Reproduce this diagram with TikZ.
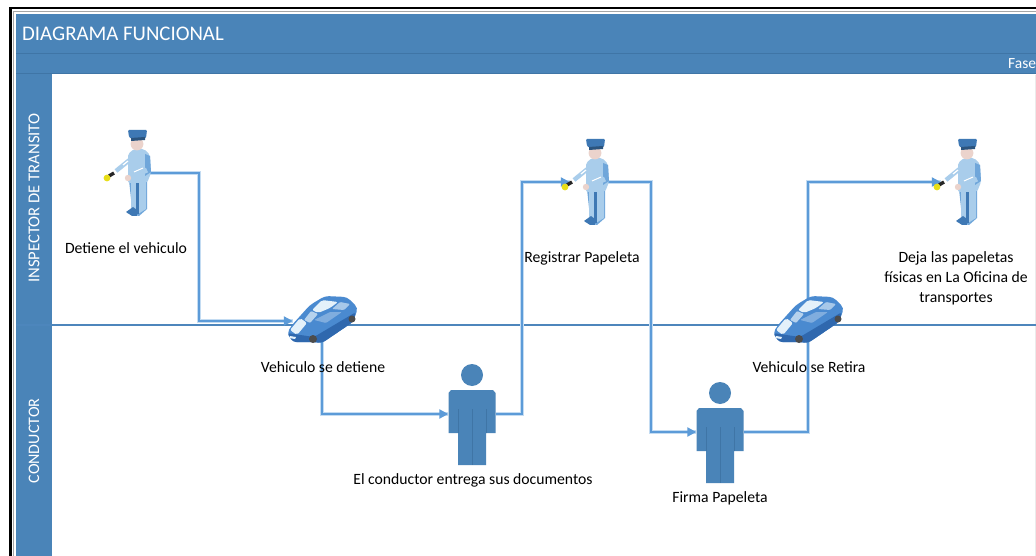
\documentclass[tikz,border=0pt]{standalone}
\usepackage{fontspec}
\setmainfont{Carlito}
\usetikzlibrary{arrows.meta}
\definecolor{band}{HTML}{4A84B8}
\definecolor{bandd}{HTML}{3F75A6}
\definecolor{flow}{HTML}{5C9BD8}
\definecolor{halo}{HTML}{C4DCF2}
\definecolor{divl}{HTML}{4D86BC}
\definecolor{uni}{HTML}{A9CDEB}
\definecolor{unid}{HTML}{6FA6DA}
\definecolor{hatc}{HTML}{3E78B4}
\definecolor{skin}{HTML}{EBD3CC}
\definecolor{carb}{HTML}{4A8AD0}
\definecolor{card}{HTML}{2F68AE}
\definecolor{carl}{HTML}{E4F1FA}
\tikzset{
  x=1pt,y=-1pt,
  conn/.style={draw=flow,line width=2.1pt,line join=miter,preaction={draw=halo,line width=3.4pt,-}},
  arr/.style={conn,-{Triangle[length=9pt,width=9pt,fill=flow]}},
  slot/.style={inner sep=0pt,minimum width=#1,minimum height=40pt},
  lab/.style={text=black,font=\fontsize{15.7}{20}\selectfont,align=center,inner sep=0pt},
  hdr/.style={text=white,inner sep=0pt},
  officer/.pic={
    % legs
    \fill[unid] (-8,50) -- (10,48) -- (10,79) -- (2,86) -- (-10,83) -- (-5,78) -- cycle;
    \fill[uni] (-6,50) -- (-1,50) -- (-1,80) -- (-6,78) -- cycle;
    \fill[uni] (1,50) -- (9,50) -- (9,79) -- (1,84) -- cycle;
    \fill[hatc] (-1,52) -- (2,52) -- (2,84) -- (-1,84) -- cycle;
    \fill[hatc] (-11,82) -- (-4,77) -- (0,80) -- (0,86) -- (-5,86) -- cycle;
    % torso
    \fill[uni,rounded corners=2pt] (-9,24) -- (-3,19) -- (7,19) -- (13,25) -- (14,43) -- (10,53) -- (-9,53) -- (-9,36) -- cycle;
    \fill[unid] (8,24) -- (13,26) -- (14,42) -- (8,46) -- cycle;
    % far arm with flashlight
    \draw[line width=4.4pt,uni] (-5,28) -- (-21,41);
    \draw[line width=1.2pt,white] (-9,31) -- (-14,35);
    \draw[line width=3.4pt,black!85] (-23,43) -- (-28,46);
    \fill[yellow!90!black] (-30,48) circle[radius=3.4];
    % near arm
    \draw[line width=5pt,uni] (10,40) -- (-5,47);
    \draw[line width=1pt,white] (6,38) -- (-3,42);
    \fill[skin] (-9,48) circle[radius=3.2];
    % head and hat
    \fill[skin] (0,14) circle[radius=6.4];
    \fill[hatc,rounded corners=1pt] (-9,0) -- (10,0) -- (9,8) -- (-5,9) -- (-8,7) -- cycle;
    \fill[hatc!70!black] (-6,8) -- (8,7) -- (8,10) -- (-6,11) -- cycle;
  },
  sedan/.pic={
    \fill[carb,rounded corners=4pt] (-35,13) -- (-30,5) -- (-12,-15) -- (3,-24) -- (25,-23) -- (36,-12) -- (31,2) -- (0,23) -- (-9,22) -- (-29,22) -- cycle;
    \fill[card,rounded corners=3pt] (-35,13) -- (-8,17) -- (34,-8) -- (31,2) -- (0,23) -- (-9,22) -- (-29,22) -- cycle;
    \fill[carl,rounded corners=2pt] (-10,-10) -- (0,-20) -- (16,-18) -- (8,-12) -- (-4,-7) -- cycle;
    \fill[carl!70!carb,rounded corners=1pt] (-11,-9) -- (-4,-6) -- (-12,3) -- (-18,0) -- cycle;
    \fill[carl!60!carb,rounded corners=1pt] (18,-18) -- (28,-16) -- (22,-10) -- (10,-11) -- cycle;
    \fill[carl,rounded corners=2pt] (-32,10) -- (-22,-2) -- (-15,3) -- (-25,15) -- cycle;
    \fill[carb!70!white,rounded corners=1pt] (-8,0) -- (8,-8) -- (20,-8) -- (4,3) -- cycle;
    \fill[black!70] (-9,19) circle[radius=4];
    \fill[black!70] (30,-1) circle[radius=3.5];
    \fill[carl] (-32,16) -- (-26,17) -- (-27,19) -- (-33,18) -- cycle;
  },
  driver/.pic={
    \fill[band] (0,-39) circle[radius=11];
    \fill[band] (-21,-24) -- (21,-24) -- (23.5,-21) -- (23.5,19) -- (14,19) -- (14,51) -- (-14,51) -- (-14,19) -- (-23.5,19) -- (-23.5,-21) -- cycle;
    \draw[bandd,line width=.5pt] (0,-5) -- (0,51);
    \draw[bandd,line width=.5pt] (-14,-5) -- (-14,19) (14,-5) -- (14,19);
  },
}
\begin{document}
\begin{tikzpicture}
\useasboundingbox (0,0) rectangle (1036,556);
\begin{scope}
\clip (0,0) rectangle (1036,556);
\fill[white] (0,0) rectangle (1036,556);
% frame
\draw[black,line width=2.4pt] (1040,8) -- (10.5,8) -- (10.5,560);
\draw[black!35,line width=.6pt] (1040,11.5) -- (13,11.5) -- (13,560);
% pool header
\fill[band] (16,14) rectangle (1036,74);
\fill[band] (16,74) rectangle (52,556);
\draw[bandd,line width=.8pt] (16,53) -- (1036,53);
\draw[bandd,line width=1pt] (16,74) -- (1036,74);
\draw[black!8,line width=1pt] (1035,75) -- (1035,556);
% lane divider
\coordinate (divL) at (16,325);
\coordinate (divR) at (1036,325);
\draw[divl,line width=1.4pt] (divL) -- (divR);
% icon slots
\node[slot=26pt] (off1) at (137,173) {};
\node[slot=50pt] (off2) at (595,182) {};
\node[slot=52pt] (off3) at (967,182) {};
\node[slot=58pt] (car1) at (322,321) {};
\node[slot=58pt] (car2) at (808,321) {};
\node[slot=47pt] (drv1) at (472,414) {};
\node[slot=47pt] (drv2) at (720,432) {};
\coordinate (t1) at (199,173);
\coordinate (t3) at (522,414);
\coordinate (t4) at (651,182);
% connectors
\draw[arr] (off1.east) -- (t1) |- (car1.west);
\draw[arr] (car1.center) |- (drv1.west);
\draw[arr] (drv1.east) -- (t3) |- (off2.west);
\draw[arr] (off2.center) -- (t4) |- (drv2.west);
\draw[conn] (drv2.east) -| (car2.center);
\draw[arr] (car2.center) |- (off3.west);
% icons
\pic at (137,130) {officer};
\pic at (595,139) {officer};
\pic at (967,139) {officer};
\pic at (322,320) {sedan};
\pic at (808,320) {sedan};
\pic at (472,414) {driver};
\pic at (720,432) {driver};
% texts
\node[hdr,anchor=west,font=\fontsize{20.8}{22}\selectfont] (title) at (22,34) {DIAGRAMA FUNCIONAL};
\node[hdr,anchor=west,font=\fontsize{15.5}{17}\selectfont] (fase) at (1008,64) {Fase};
\node[hdr,rotate=90,font=\fontsize{16.6}{18}\selectfont] (lane1) at (34,198) {INSPECTOR DE TRANSITO};
\node[hdr,rotate=90,font=\fontsize{16}{18}\selectfont] (lane2) at (34,441) {CONDUCTOR};
\node[lab] (l1) at (126,248) {Detiene el vehiculo};
\node[lab] (l2) at (323,367) {Vehiculo se detiene};
\node[lab] (l3) at (473,480) {El conductor entrega sus documentos};
\node[lab] (l4) at (582,258) {Registrar Papeleta};
\node[lab] (l5) at (720,498) {Firma Papeleta};
\node[lab] (l6) at (809,367) {Vehiculo se Retira};
\node[lab] (l7) at (956,278) {Deja las papeletas\\físicas en La Oficina de\\transportes};
\end{scope}
\end{tikzpicture}
\end{document}
